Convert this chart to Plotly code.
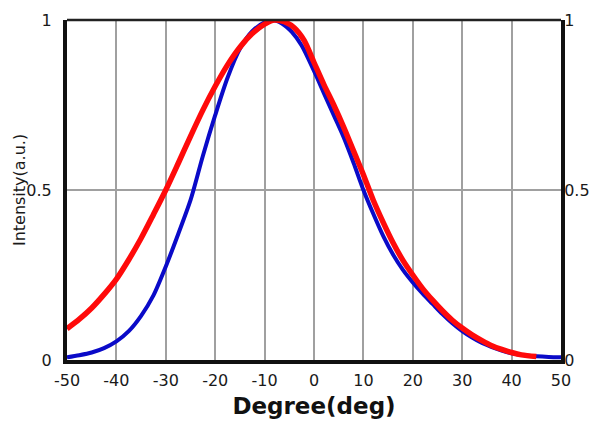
import plotly.graph_objects as go

# ---- data ----
deg_red = [-50, -47.5, -45, -42.5, -40, -37.5, -35, -32.5, -30, -27.5, -25, -22.5, -20,
           -17.5, -15, -12.5, -10, -8, -6, -4, -2, 0, 2, 4, 6, 8, 10, 12, 14, 16, 18, 20,
           22, 24, 26, 28, 30, 32, 34, 36, 38, 40, 42, 45]
int_red = [0.092, 0.12, 0.153, 0.193, 0.238, 0.295, 0.358, 0.428, 0.50, 0.578, 0.658, 0.735, 0.805,
           0.868, 0.92, 0.96, 0.988, 1.0, 0.995, 0.977, 0.94, 0.875, 0.81, 0.75, 0.685, 0.615, 0.545,
           0.47, 0.405, 0.345, 0.293, 0.25, 0.21, 0.176, 0.145, 0.117, 0.094, 0.074, 0.057, 0.042, 0.031,
           0.022, 0.015, 0.01]

deg_blue = [-50, -47.5, -45, -42.5, -40, -37.5, -35, -32.5, -30, -27.5, -25, -22.5, -20,
            -17.5, -15, -12.5, -10, -8.5, -6.5, -4.5, -2.5, 0, 2, 4, 6, 8, 10, 12, 14, 16,
            18, 20, 22, 24, 26, 28, 30, 32, 34, 36, 38, 40, 42.5, 45, 47.5, 50]
int_blue = [0.008, 0.014, 0.022, 0.035, 0.055, 0.085, 0.13, 0.19, 0.275, 0.37, 0.47, 0.60, 0.72,
            0.83, 0.915, 0.967, 0.993, 1.0, 0.99, 0.965, 0.925, 0.85, 0.785, 0.72, 0.655, 0.58, 0.50,
            0.43, 0.365, 0.31, 0.265, 0.228, 0.195, 0.165, 0.135, 0.108, 0.085, 0.066, 0.05, 0.038,
            0.028, 0.02, 0.014, 0.011, 0.009, 0.008]

x_ticks = [-50, -40, -30, -20, -10, 0, 10, 20, 30, 40, 50]
y_ticks = [0, 0.5, 1]
y_tick_text = ["0", "0.5", "1"]

FONT = "DejaVu Sans, Verdana, sans-serif"

fig = go.Figure()
fig.add_trace(go.Scatter(x=deg_blue, y=int_blue, mode="lines",
                         line=dict(color="#0a0ac8", width=4, shape="spline", smoothing=0.8),
                         showlegend=False, yaxis="y"))
fig.add_trace(go.Scatter(x=deg_red, y=int_red, mode="lines",
                         line=dict(color="#ff0a0a", width=5.5, shape="spline", smoothing=0.8),
                         showlegend=False, yaxis="y2"))

fig.update_layout(
    width=590, height=424,
    margin=dict(l=67, r=29, t=20, b=64, autoexpand=False),
    paper_bgcolor="white", plot_bgcolor="white",
    font=dict(family=FONT, size=16, color="#1a1a1a"),
    xaxis=dict(range=[-50, 50], tickvals=x_ticks, ticktext=[str(v) for v in x_ticks],
               showgrid=True, gridcolor="#a0a0a0", gridwidth=1.5, zeroline=False,
               showline=True, linecolor="#111111", linewidth=3.5, mirror=False,
               ticks="", ticklabelstandoff=3, automargin=False,
               title=dict(text="Degree(deg)", font=dict(family=FONT, size=23, color="#111111",
                                                         weight="bold"), standoff=10)),
    yaxis=dict(range=[0, 1], tickvals=y_ticks, ticktext=y_tick_text, automargin=False,
               showgrid=True, gridcolor="#a0a0a0", gridwidth=1.5, zeroline=False,
               showline=True, linecolor="#111111", linewidth=4, ticks="", ticklabelstandoff=8),
    yaxis2=dict(range=[0, 1], tickvals=y_ticks, ticktext=y_tick_text, overlaying="y", side="right",
                showgrid=False, zeroline=False, showline=True, linecolor="#111111", linewidth=4,
                ticks="", ticklabelstandoff=-4, automargin=False),
    annotations=[dict(text="Intensity(a.u.)", xref="paper", yref="paper", x=-0.097, y=0.5,
                      xanchor="center", yanchor="middle", textangle=-90, showarrow=False,
                      font=dict(family=FONT, size=16, color="#1a1a1a"))],
    shapes=[dict(type="line", xref="paper", yref="paper", x0=0, x1=1, y0=1, y1=1,
                 line=dict(color="#222222", width=2.5), layer="above")],
)

fig.write_html("out.html", config={"displayModeBar": False},
               post_script="document.body.style.margin='0';document.body.style.padding='0';")
